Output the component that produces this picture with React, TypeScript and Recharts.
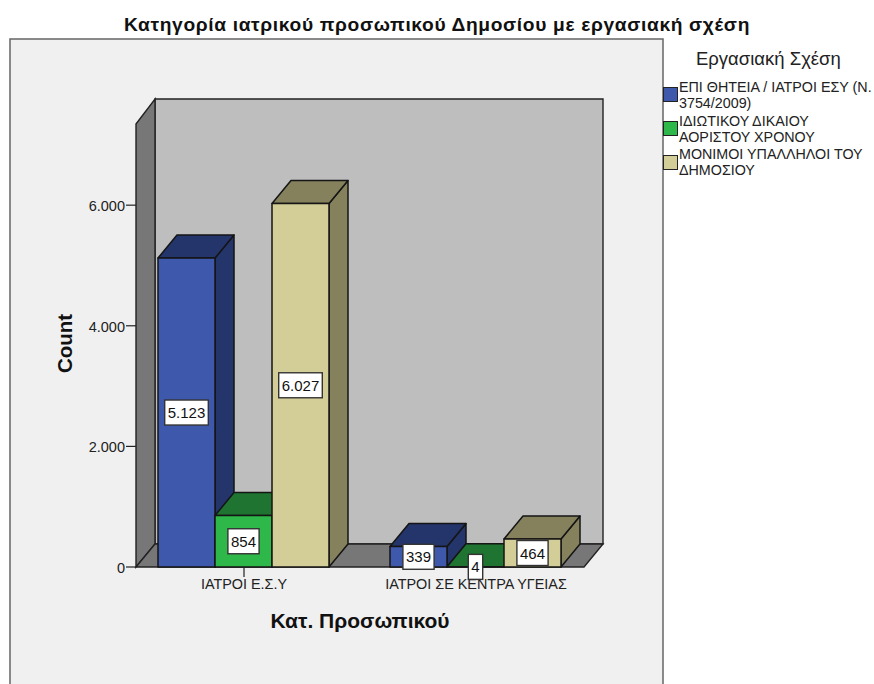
import { BarChart, Bar, XAxis, YAxis, Legend, LabelList } from 'recharts'

const categories = ['ΙΑΤΡΟΙ Ε.Σ.Υ', 'ΙΑΤΡΟΙ ΣΕ ΚΕΝΤΡΑ ΥΓΕΙΑΣ']
const epiThiteia = [5123, 339]
const idiotikou = [854, 4]
const monimoi = [6027, 464]
const yTicks = [0, 2000, 4000, 6000]

const data = categories.map((name, i) => ({
  name,
  epiThiteia: epiThiteia[i],
  idiotikou: idiotikou[i],
  monimoi: monimoi[i],
}))

const FONT = '"Liberation Sans", Arial, sans-serif'
const DX = 19
const DY = 23

const legendRows = [
  { color: '#3e58ac', lines: ['ΕΠΙ ΘΗΤΕΙΑ / ΙΑΤΡΟΙ ΕΣΥ (Ν.', '3754/2009)'] },
  { color: '#2eb84a', lines: ['ΙΔΙΩΤΙΚΟΥ ΔΙΚΑΙΟΥ', 'ΑΟΡΙΣΤΟΥ ΧΡΟΝΟΥ'] },
  { color: '#d3ce97', lines: ['ΜΟΝΙΜΟΙ ΥΠΑΛΛΗΛΟΙ ΤΟΥ', 'ΔΗΜΟΣΙΟΥ'] },
]

function formatCount(value: number): string {
  return value.toLocaleString('de-DE')
}

function Bar3D({ x, y, width, height, fill, side }: any) {
  const b = y + height
  const r = x + width
  return (
    <g stroke="#151515" strokeWidth={1.5} strokeLinejoin="round">
      <polygon points={`${r},${y} ${r + DX},${y - DY} ${r + DX},${b - DY} ${r},${b}`} fill={side} />
      <polygon points={`${x},${y} ${x + DX},${y - DY} ${r + DX},${y - DY} ${r},${y}`} fill={side} />
      <rect x={x} y={y} width={width} height={height} fill={fill} />
    </g>
  )
}

function ValueBox(props: any) {
  const box = props.viewBox ?? props
  const text = formatCount(Number(props.value))
  const w = text.replace('.', '').length * 8.4 + (text.includes('.') ? 4 : 0) + 6
  const h = 25
  const cx = box.x + box.width / 2
  const cy = box.y + box.height / 2
  return (
    <g>
      <rect x={cx - w / 2} y={cy - h / 2} width={w} height={h} fill="#fff" stroke="#333" strokeWidth={1.4} />
      <text x={cx} y={cy + 5.5} textAnchor="middle" fontSize={15} fontFamily={FONT} fill="#111">
        {text}
      </text>
    </g>
  )
}

function YTick({ x, y, payload }: any) {
  return (
    <g>
      <line x1={x - 2} x2={x + 8} y1={y} y2={y} stroke="#222" strokeWidth={1.2} />
      <text x={x - 3} y={y + 6} textAnchor="end" fontSize={14.5} fontFamily={FONT} fill="#222">
        {formatCount(payload.value)}
      </text>
    </g>
  )
}

function CountLabel({ viewBox }: any) {
  const cy = viewBox.y + viewBox.height / 2 - 2
  return (
    <text
      transform={`translate(72 ${cy}) rotate(-90)`}
      textAnchor="middle"
      fontSize={20.5}
      fontWeight="bold"
      fontFamily={FONT}
      fill="#111"
    >
      Count
    </text>
  )
}

function LegendBox() {
  return (
    <div style={{ position: 'relative', width: 211, height: 170, fontFamily: FONT, color: '#222' }}>
      <div style={{ position: 'absolute', left: 33, top: 9, fontSize: 18.5, whiteSpace: 'nowrap' }}>Εργασιακή Σχέση</div>
      {legendRows.map((row, i) => (
        <div key={row.color}>
          <div
            style={{
              position: 'absolute',
              left: 0,
              top: 48 + i * 34,
              width: 13,
              height: 13,
              background: row.color,
              border: '1px solid #222',
            }}
          />
          {row.lines.map((line, j) => (
            <div
              key={line}
              style={{
                position: 'absolute',
                left: 16,
                top: 40 + i * 33.5 + j * 16,
                fontSize: 14.3,
                lineHeight: '16px',
                whiteSpace: 'nowrap',
              }}
            >
              {line}
            </div>
          ))}
        </div>
      ))}
    </div>
  )
}

export default function App() {
  return (
    <div style={{ position: 'absolute', left: 0, top: 0, width: 874, height: 684, background: '#fff', overflow: 'hidden' }}>
      <svg width={874} height={684} style={{ position: 'absolute', left: 0, top: 0 }}>
        <rect x={10} y={39} width={653} height={660} fill="#f0f0f0" stroke="#666" strokeWidth={1.5} />
        <polygon points="155,99 603,99 603,544 155,544" fill="#bebebe" stroke="#222" strokeWidth={1.4} />
        <polygon points="136,124 155,99 155,544 136,567" fill="#777" stroke="#222" strokeWidth={1.4} />
        <polygon points="136,567 155,544 603,544 584,567" fill="#777" stroke="#222" strokeWidth={1.4} />
        <text
          x={437}
          y={31}
          textAnchor="middle"
          fontSize={19.2}
          letterSpacing={0.65}
          fontWeight="bold"
          fontFamily={FONT}
          fill="#111"
        >
          Κατηγορία ιατρικού προσωπικού Δημοσίου με εργασιακή σχέση
        </text>
      </svg>
      <div style={{ position: 'absolute', left: 0, top: 0 }}>
        <BarChart
          width={874}
          height={684}
          data={data}
          margin={{ top: 124, right: 282, bottom: 0, left: 0 }}
          barCategoryGap={30}
          barGap={0}
        >
          <XAxis
            dataKey="name"
            height={117}
            axisLine={false}
            tickSize={10}
            tickLine={{ stroke: '#222', strokeWidth: 1.2 }}
            tick={{ fontSize: 14.4, fontFamily: FONT, fill: '#222' }}
            interval={0}
            label={{
              value: 'Κατ. Προσωπικού',
              position: 'insideBottom',
              offset: 56,
              style: { fontSize: 21, fontWeight: 'bold', fontFamily: FONT, fill: '#111' },
            }}
          />
          <YAxis
            width={128}
            domain={[0, 7346]}
            ticks={yTicks}
            axisLine={false}
            tickLine={false}
            tickSize={0}
            tickMargin={0}
            tick={<YTick />}
            label={{ value: 'Count', content: <CountLabel /> }}
          />
          <Legend
            layout="vertical"
            align="center"
            verticalAlign="middle"
            content={<LegendBox />}
            wrapperStyle={{ position: 'absolute', left: 663, top: 39, width: 211 }}
          />
          <Bar dataKey="epiThiteia" fill="#3e58ac" isAnimationActive={false} shape={<Bar3D side="#24356c" />}>
            <LabelList dataKey="epiThiteia" content={<ValueBox />} />
          </Bar>
          <Bar dataKey="idiotikou" fill="#2eb84a" isAnimationActive={false} shape={<Bar3D side="#1e7430" />}>
            <LabelList dataKey="idiotikou" content={<ValueBox />} />
          </Bar>
          <Bar dataKey="monimoi" fill="#d3ce97" isAnimationActive={false} shape={<Bar3D side="#84815c" />}>
            <LabelList dataKey="monimoi" content={<ValueBox />} />
          </Bar>
        </BarChart>
      </div>
    </div>
  )
}
